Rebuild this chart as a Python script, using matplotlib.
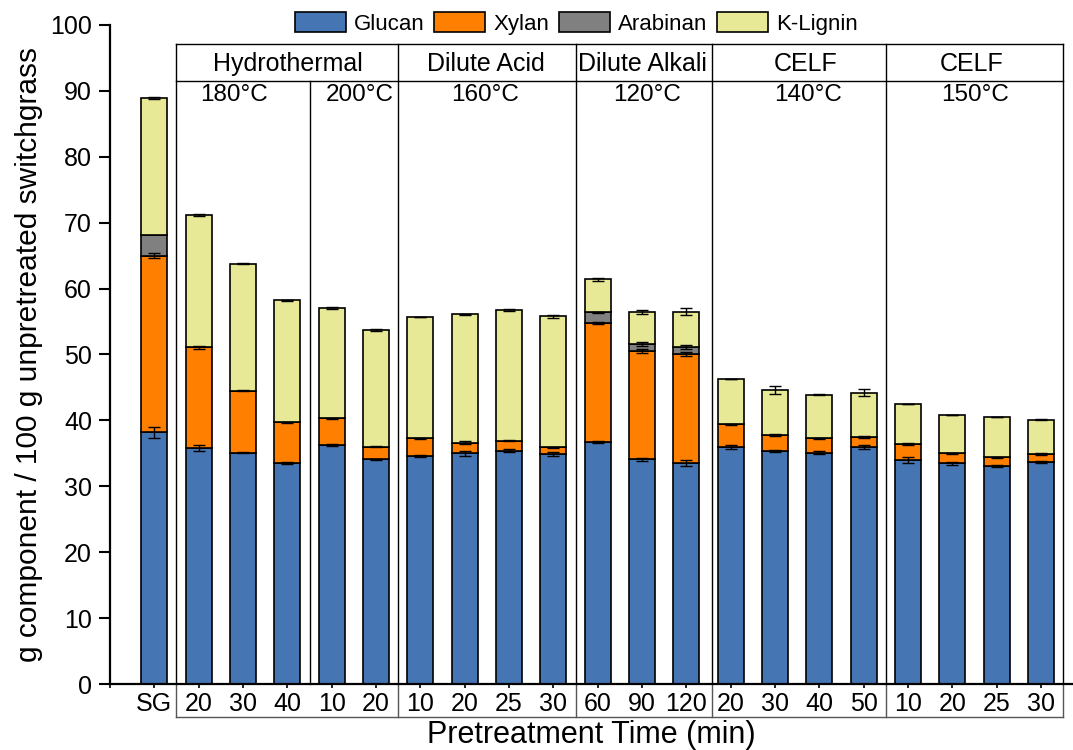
import matplotlib.pyplot as plt
import numpy as np

plt.rcParams['font.family'] = ['Liberation Sans', 'DejaVu Sans']

# tick labels: blank tick at 0, then raw switchgrass and pretreatment times (min)
tick_labels = ["", "SG", "20", "30", "40", "10", "20", "10", "20", "25", "30",
               "60", "90", "120", "20", "30", "40", "50", "10", "20", "25", "30"]

# g component / 100 g unpretreated switchgrass (segment heights)
glucan = [38.2, 35.8, 35.1, 33.6, 36.2, 34.1, 34.6, 35.0, 35.4, 34.9,
          36.7, 34.1, 33.6, 35.9, 35.3, 35.1, 36.0, 34.0, 33.5, 33.1, 33.7]
xylan = [26.8, 15.3, 9.4, 6.1, 4.1, 1.9, 2.7, 1.6, 1.5, 1.0,
         18.1, 16.4, 16.5, 3.5, 2.5, 2.2, 1.5, 2.4, 1.5, 1.3, 1.2]
arabinan = [3.1, 0, 0, 0, 0, 0, 0, 0, 0, 0,
            1.6, 1.1, 1.1, 0, 0, 0, 0, 0, 0, 0, 0]
lignin = [20.8, 20.0, 19.3, 18.5, 16.8, 17.7, 18.4, 19.5, 19.9, 19.9,
          5.0, 4.8, 5.3, 6.9, 6.8, 6.6, 6.7, 6.1, 5.8, 6.1, 5.2]

# standard deviations
glucan_err = [0.8, 0.5, 0.1, 0.15, 0.15, 0.1, 0.1, 0.4, 0.25, 0.3,
              0.2, 0.2, 0.45, 0.3, 0.15, 0.25, 0.3, 0.4, 0.2, 0.1, 0.2]
xylan_err = [0.4, 0.2, 0.1, 0.1, 0.1, 0.1, 0.1, 0.2, 0.1, 0.1,
             0.1, 0.3, 0.3, 0.1, 0.1, 0.1, 0.2, 0.1, 0.1, 0.1, 0.1]
arabinan_err = [0, 0, 0, 0, 0, 0, 0, 0, 0, 0,
                0.1, 0.3, 0.3, 0, 0, 0, 0, 0, 0, 0, 0]
lignin_err = [0.15, 0.15, 0.1, 0.1, 0.15, 0.1, 0.05, 0.1, 0.15, 0.25,
              0.2, 0.3, 0.5, 0.05, 0.65, 0.1, 0.5, 0.05, 0.05, 0.05, 0.05]

components = ["Glucan", "Xylan", "Arabinan", "K-Lignin"]
colors = ["#4675b3", "#ff8000", "#808080", "#e8e997"]

methods = ["Hydrothermal", "Dilute Acid", "Dilute Alkali", "CELF", "CELF"]
temps = ["180°C", "200°C", "160°C", "120°C", "140°C", "150°C"]

fig = plt.figure(figsize=(10.73, 7.5), dpi=100)
ax = fig.add_axes([0.1025, 0.088, 0.8975, 0.8787])

x = np.arange(1, len(glucan) + 1)
series = [glucan, xylan, arabinan, lignin]
errs = [glucan_err, xylan_err, arabinan_err, lignin_err]
bottom = np.zeros(len(x))
handles = []
for vals, err, col, name in zip(series, errs, colors, components):
    vals = np.array(vals, dtype=float)
    h = ax.bar(x, vals, 0.59, bottom=bottom, color=col, edgecolor="black",
               linewidth=1.2, label=name, zorder=2)
    handles.append(h)
    top = bottom + vals
    m = np.array(err) > 0
    ax.errorbar(x[m], top[m], yerr=np.array(err)[m], fmt="none", ecolor="black",
                elinewidth=1, capsize=4, capthick=1, zorder=3)
    bottom = top

ax.set_xlim(0, 21.72)
ax.set_ylim(0, 100)
ax.set_xticks(np.arange(0, 22))
ax.set_xticklabels(tick_labels)
ax.set_yticks(np.arange(0, 101, 10))
ax.tick_params(axis="y", direction="out", length=8, width=1.5, labelsize=18, pad=5)
ax.tick_params(axis="x", direction="out", length=3, width=1.2, labelsize=18, pad=3)
for s in ["top", "right"]:
    ax.spines[s].set_visible(False)
for s in ["left", "bottom"]:
    ax.spines[s].set_linewidth(1.6)

ax.set_ylabel("g component / 100 g unpretreated switchgrass", fontsize=21.5, labelpad=5)
ax.set_xlabel("Pretreatment Time (min)", fontsize=22, labelpad=3)

# header box with method / temperature groups
edges = [1.5, 6.5, 10.5, 13.58, 17.5, 21.5]
y_top, y_sep, y_bot = 97.1, 91.55, -5.0
kw = dict(color="black", linewidth=1.0, clip_on=False, zorder=1)
ax.plot([edges[0], edges[-1]], [y_top, y_top], **kw)
ax.plot([edges[0], edges[-1]], [y_sep, y_sep], **kw)
for e in edges:
    ax.plot([e, e], [0, y_top], **kw)
ax.plot([4.5, 4.5], [0, y_sep], **kw)

# box round the time tick labels
kb = dict(color="#555555", linewidth=1.0, clip_on=False, zorder=1)
ax.plot([edges[0], edges[-1]], [y_bot, y_bot], **kb)
for e in edges:
    ax.plot([e, e], [0, y_bot], **kb)

method_x = [4.02, 8.48, 12.02, 15.7, 19.44]
for mx, name in zip(method_x, methods):
    ax.text(mx, 94.1, name, ha="center", va="center", fontsize=18)
temp_x = [2.8, 5.64, 8.46, 12.11, 15.75, 19.51]
for tx, name in zip(temp_x, temps):
    ax.text(tx, 89.4, name, ha="center", va="center", fontsize=17.5)

fig.legend(handles, components, loc="center", bbox_to_anchor=(0.537, 0.969),
           ncol=4, frameon=False, fontsize=16, handlelength=2.3, handleheight=1.0,
           handletextpad=0.35, columnspacing=0.45)

fig.savefig("out.png", dpi=100)
